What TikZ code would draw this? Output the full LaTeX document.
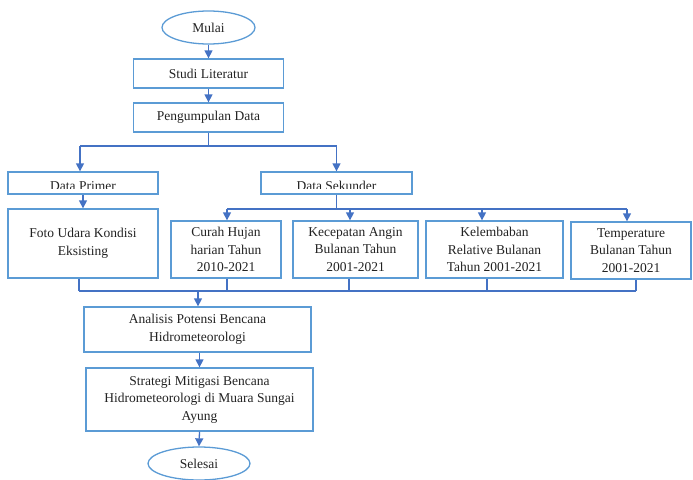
\documentclass[tikz,border=0pt]{standalone}
\usepackage{fontspec}
\setmainfont{Liberation Serif}
\usetikzlibrary{arrows.meta,shapes.geometric}
\definecolor{boxc}{HTML}{5B9BD5}
\definecolor{linec}{HTML}{4472C4}
\definecolor{txt}{HTML}{222222}
\begin{document}
\begin{tikzpicture}[x=1pt,y=-1pt,
  lbl/.style={text=txt,font=\fontsize{13.5}{17.5}\selectfont},
  box/.style={lbl,draw=boxc,line width=1.3pt,rectangle,inner sep=0pt,align=center},
  oval/.style={lbl,draw=boxc,line width=1.3pt,ellipse,inner sep=0pt},
  conn/.style={draw=linec,line width=1.3pt},
  arr/.style={conn,-{Triangle[width=8pt,length=8pt]}}]
\useasboundingbox (0,0) rectangle (693,479);

\node[oval,minimum width=93pt,minimum height=33pt] (mulai) at (208.5,27.5) {Mulai};
\node[box,minimum width=150pt,minimum height=29pt] (sl) at (208.5,73.5) {Studi Literatur};
\node[box,minimum width=150pt,minimum height=29pt] (peng) at (208.5,117.5) {Pengumpulan Data};

\node[box,minimum width=150pt,minimum height=22pt] (dp) at (83,183) {};
\node[box,minimum width=151pt,minimum height=22pt] (ds) at (336.5,183) {};
\begin{scope}
  \clip (9,173) rectangle (157,188.3);
  \node[lbl,anchor=base] (dpt) at (83,190) {Data Primer};
\end{scope}
\begin{scope}
  \clip (262,173) rectangle (411,188.3);
  \node[lbl,anchor=base] (dst) at (336.5,190) {Data Sekunder};
\end{scope}

\node[box,minimum width=150pt,minimum height=69pt] (fo) at (83,243.5) {Foto Udara Kondisi\\Eksisting};
\node[box,minimum width=110pt,minimum height=57pt] (cu) at (226,249.5) {Curah Hujan\\harian Tahun\\2010-2021};
\node[box,minimum width=125pt,minimum height=57pt] (ke) at (355.5,249.5) {Kecepatan Angin\\Bulanan Tahun\\2001-2021};
\node[box,minimum width=137pt,minimum height=57pt] (kl) at (494.5,249.5) {Kelembaban\\Relative Bulanan\\Tahun 2001-2021};
\node[box,minimum width=120pt,minimum height=57pt] (te) at (631,250.5) {Temperature\\Bulanan Tahun\\2001-2021};

\node[box,minimum width=227pt,minimum height=45pt] (ana) at (197.5,329.5) {Analisis Potensi Bencana\\Hidrometeorologi};
\node[box,minimum width=227pt,minimum height=63pt] (str) at (199.5,399.5) {Strategi Mitigasi Bencana\\Hidrometeorologi di Muara Sungai\\Ayung};
\node[oval,minimum width=102pt,minimum height=33pt] (sel) at (199,463.5) {Selesai};

% top chain
\draw[arr] (mulai.south) -- (sl.north);
\draw[arr] (sl.south) -- (peng.north);

% split to primer / sekunder
\coordinate (bp) at (80,146);
\coordinate (bs) at (336.5,146);
\draw[conn] (peng.south) -- (peng.south|-bp);
\draw[conn] (bp) -- (bs);
\draw[arr] (bp) -- (bp|-dp.north);
\draw[arr] (bs) -- (ds.north);

\draw[arr] (dp.south) -- (fo.north);

% sekunder branches
\coordinate (c1) at (227,209);
\coordinate (c2) at (350,209);
\coordinate (c3) at (482,209);
\coordinate (c4) at (627,209);
\draw[conn] (ds.south) -- (ds.south|-c1);
\draw[conn] (c1) -- (c4);
\draw[arr] (c1) -- (c1|-cu.north);
\draw[arr] (c2) -- (c2|-ke.north);
\draw[arr] (c3) -- (c3|-kl.north);
\draw[arr] (c4) -- (c4|-te.north);

% merge
\coordinate (m0) at (79,291);
\coordinate (m1) at (227,291);
\coordinate (m2) at (349,291);
\coordinate (m3) at (487,291);
\coordinate (m4) at (636,291);
\coordinate (ma) at (198,291);
\draw[conn] (m0|-fo.south) -- (m0);
\draw[conn] (m1|-cu.south) -- (m1);
\draw[conn] (m2|-ke.south) -- (m2);
\draw[conn] (m3|-kl.south) -- (m3);
\draw[conn] (m4|-te.south) -- (m4);
\draw[conn] (m0) -- (m4);
\draw[arr] (ma) -- (ma|-ana.north);

% bottom chain
\draw[arr] (str.north|-ana.south) -- (str.north);
\draw[arr] (str.south) -- (sel.north);
\end{tikzpicture}
\end{document}
